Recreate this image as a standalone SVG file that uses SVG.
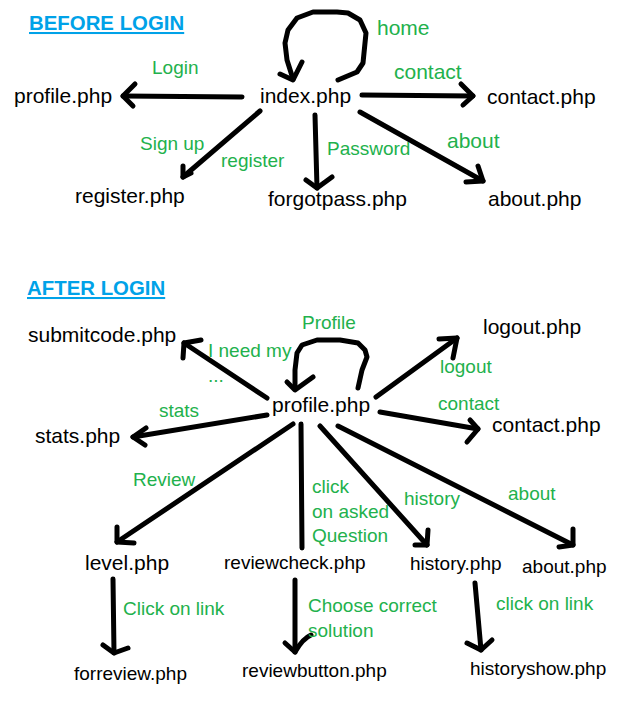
<svg xmlns="http://www.w3.org/2000/svg" width="624" height="707" viewBox="0 0 624 707">
<style>
text{font-family:"Liberation Sans",Arial,sans-serif}
.n{font-size:21px;fill:#000}
.s{font-size:19px;fill:#000}
.g{font-size:19px;fill:#22b14c}
.gl{font-size:21px;fill:#22b14c}
.h{font-size:20.4px;font-weight:bold;fill:#00a2e8}
.c path{fill:none;stroke:#000;stroke-width:5;stroke-linecap:round;stroke-linejoin:round}
</style>
<rect width="624" height="707" fill="#fff"/>
<g id="headings">
<text class="h" x="29" y="30" text-decoration="underline">BEFORE LOGIN</text>
<text class="h" x="27" y="295" text-decoration="underline">AFTER LOGIN</text>
</g>
<g id="connectors" class="c">
<!-- before login -->
<path d="M338,80 L357,72 L363,63 L366,33 L360,20 L348,13 L337,12 L313,12 L297,18 L288,30 L285,43 L287,60 L293,79"/>
<path d="M280,74 L293,80 L302,62"/>
<path d="M242,97 L123,96"/>
<path d="M135,84 L123,96 L133,106"/>
<path d="M362,95 L473,96"/>
<path d="M461,84 L473,96 L463,105"/>
<path d="M360,112 L483,181"/>
<path d="M478,166 L483,181 L466,182"/>
<path d="M315,115 L317,188"/>
<path d="M306,180 L317,188 L332,177"/>
<path d="M260,111 L183,177"/>
<path d="M183,166 L183,177 L191,173"/>
<!-- after login -->
<path d="M358,388 L362,370 L367,357 L365,350 L358,343 L340,340 L317,340 L302,345 L297,353 L295,370 L295,389"/>
<path d="M287,382 L295,390 L313,377"/>
<path d="M267,398 L184,343"/>
<path d="M201,340 L184,343 L183,358"/>
<path d="M267,415 L133,437"/>
<path d="M146,428 L133,437 L145,445"/>
<path d="M376,397 L457,338"/>
<path d="M439,339 L457,338 L453,358"/>
<path d="M380,412 L478,429"/>
<path d="M470,420 L478,429 L467,442"/>
<path d="M293,424 L117,542"/>
<path d="M117,527 L117,542 L134,543"/>
<path d="M301,424 L302,548"/>
<path d="M320,426 L427,545"/>
<path d="M428,530 L427,545 L415,545"/>
<path d="M338,426 L573,545"/>
<path d="M573,529 L573,545 L559,547"/>
<path d="M113,579 L114,653"/>
<path d="M103,645 L114,653 L128,648"/>
<path d="M295,580 L295,652"/>
<path d="M285,643 L295,652 C299,645 304,638 311,635"/>
<path d="M475,583 L481,650"/>
<path d="M467,643 L481,650 L492,640"/>
</g>
<g id="edge-labels">
<text class="gl" x="377" y="35">home</text>
<text class="g" x="152" y="74">Login</text>
<text class="gl" x="394" y="79">contact</text>
<text class="g" x="140" y="150">Sign up</text>
<text class="g" x="221" y="167">register</text>
<text class="g" x="327" y="155">Password</text>
<text class="gl" x="447" y="148">about</text>
<text class="g" x="302" y="329">Profile</text>
<text class="g" x="208" y="357">I need my</text>
<text class="g" x="208" y="382">...</text>
<text class="g" x="159" y="417">stats</text>
<text class="g" x="440" y="373">logout</text>
<text class="g" x="438" y="410">contact</text>
<text class="g" x="133" y="486">Review</text>
<text class="g" x="312" y="493">click</text>
<text class="g" x="312" y="518">on asked</text>
<text class="g" x="312" y="542">Question</text>
<text class="g" x="404" y="505">history</text>
<text class="g" x="508" y="500">about</text>
<text class="g" x="123" y="615">Click on link</text>
<text class="g" x="308" y="612">Choose correct</text>
<text class="g" x="308" y="637">solution</text>
<text class="g" x="496" y="610">click on link</text>
</g>
<g id="index"><text class="n" x="260" y="103">index.php</text></g>
<g id="profile-before"><text class="n" x="14" y="103">profile.php</text></g>
<g id="contact-before"><text class="n" x="487" y="104">contact.php</text></g>
<g id="register"><text class="n" x="75" y="203">register.php</text></g>
<g id="forgotpass"><text class="n" x="268" y="206">forgotpass.php</text></g>
<g id="about-before"><text class="n" x="488" y="206">about.php</text></g>
<g id="profile"><text class="n" x="272" y="412">profile.php</text></g>
<g id="submitcode"><text class="n" x="28" y="342">submitcode.php</text></g>
<g id="stats"><text class="n" x="35" y="443">stats.php</text></g>
<g id="logout"><text class="n" x="483" y="334">logout.php</text></g>
<g id="contact-after"><text class="n" x="492" y="432">contact.php</text></g>
<g id="level"><text class="n" x="85" y="570">level.php</text></g>
<g id="reviewcheck"><text class="s" x="224" y="569">reviewcheck.php</text></g>
<g id="history"><text class="s" x="410" y="570">history.php</text></g>
<g id="about-after"><text class="s" x="522" y="573">about.php</text></g>
<g id="forreview"><text class="s" x="74" y="680">forreview.php</text></g>
<g id="reviewbutton"><text class="s" x="242" y="677">reviewbutton.php</text></g>
<g id="historyshow"><text class="s" x="470" y="675">historyshow.php</text></g>
</svg>
